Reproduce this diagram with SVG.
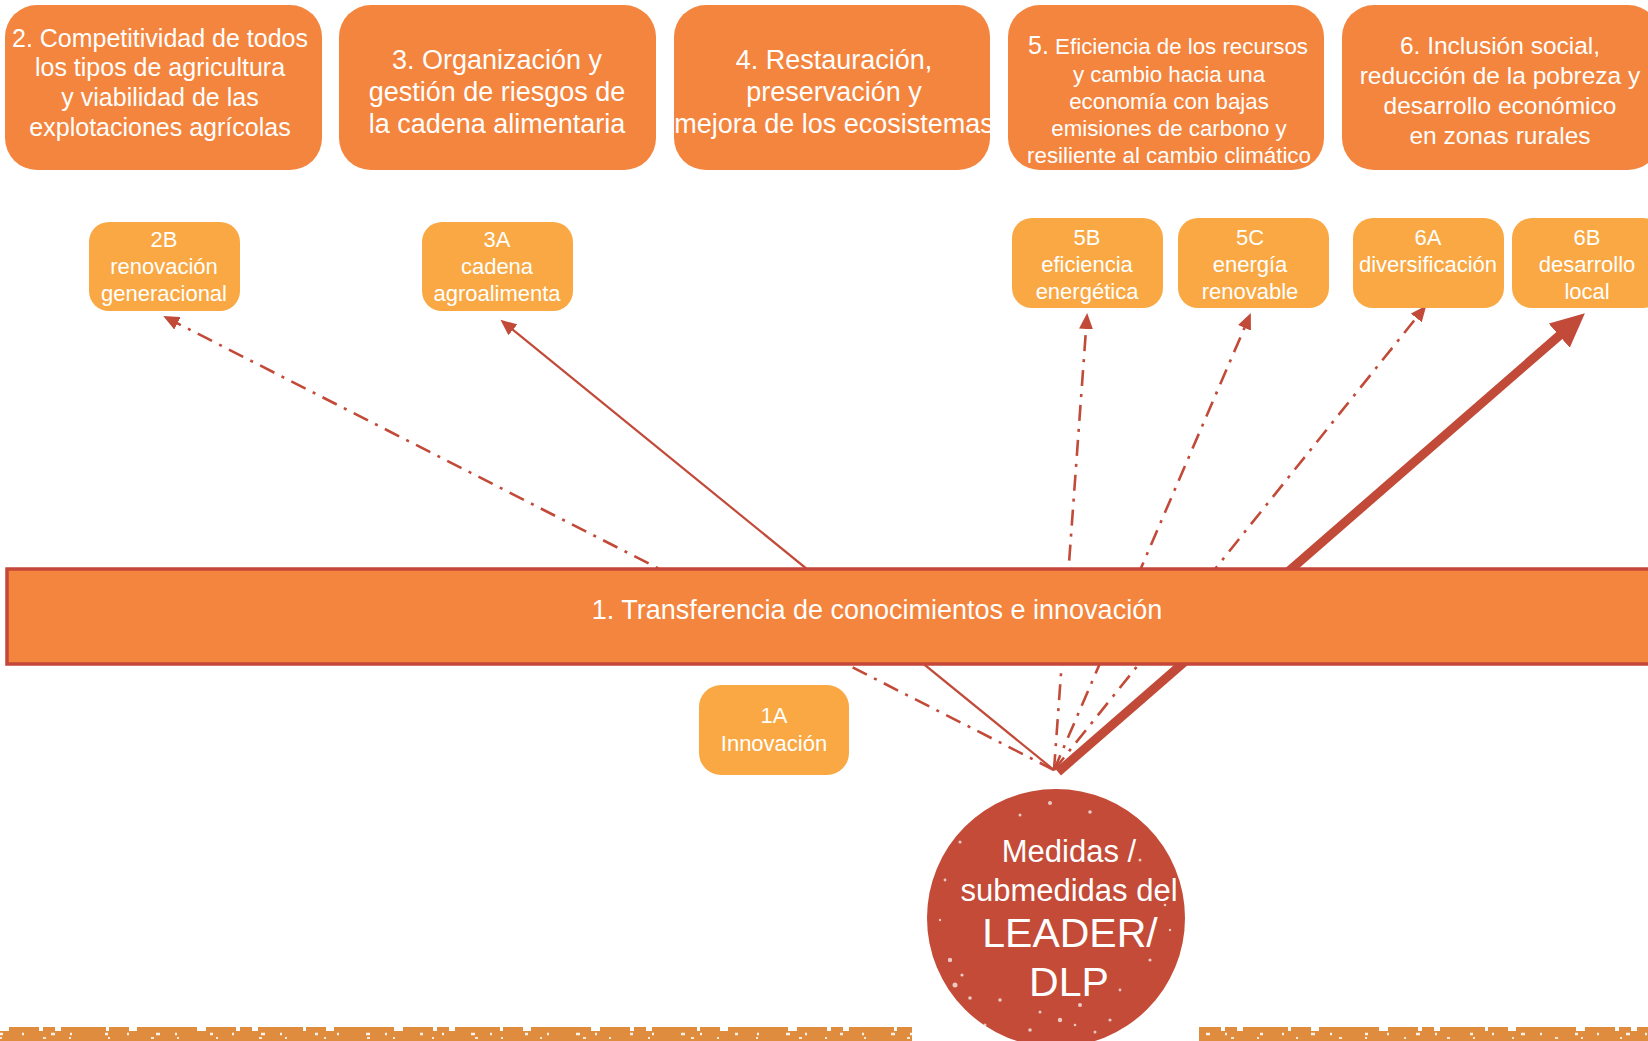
<svg xmlns="http://www.w3.org/2000/svg" width="1648" height="1041" viewBox="0 0 1648 1041">
<defs>
<style>
.big{fill:#F4853E}
.small{fill:#F9A843}
.t{font-family:"Liberation Sans",Arial,sans-serif;fill:#ffffff;text-anchor:middle}
.f27{font-size:27px}.f25{font-size:25px}.f24{font-size:24.5px}.f22{font-size:22.3px}.f21{font-size:22px}
.c{fill:none;stroke:#C24A38;stroke-width:2.6}
.dd{stroke-dasharray:16 8 3 8}
</style>
<marker id="ah" markerUnits="userSpaceOnUse" markerWidth="17" markerHeight="14" refX="1" refY="7" orient="auto">
<path d="M0,0 L16,7 L0,14 z" fill="#C24A38"/>
</marker>
<marker id="ahBig" markerUnits="userSpaceOnUse" markerWidth="36" markerHeight="32" refX="1" refY="16" orient="auto">
<path d="M0,0 L34,16 L0,32 z" fill="#C24A38"/>
</marker>
</defs>
<rect width="1648" height="1041" fill="#ffffff"/>

<g id="connectors">
<line class="c dd" x1="1054" y1="770" x2="176.6" y2="322.9" marker-end="url(#ah)"/>
<line class="c" style="stroke-width:2.2" x1="1054" y1="770" x2="512.1" y2="329.2" marker-end="url(#ah)"/>
<line class="c dd" x1="1054" y1="770" x2="1086.1" y2="328" marker-end="url(#ah)"/>
<line class="c dd" x1="1054" y1="770" x2="1244.9" y2="326.9" marker-end="url(#ah)"/>
<line class="c dd" x1="1054" y1="770" x2="1416.9" y2="317.1" marker-end="url(#ah)"/>
<line class="c" style="stroke-width:9" x1="1058" y1="772" x2="1560" y2="335" marker-end="url(#ahBig)"/>
</g>

<g id="n2"><rect class="big" x="5" y="5" width="317" height="165" rx="32"/>
<text class="t f25"><tspan x="160" y="47">2. Competitividad de todos</tspan><tspan x="160" y="76">los tipos de agricultura</tspan><tspan x="160" y="106">y viabilidad de las</tspan><tspan x="160" y="136">explotaciones agrícolas</tspan></text></g>
<g id="n3"><rect class="big" x="339" y="5" width="317" height="165" rx="32"/>
<text class="t f27"><tspan x="497" y="69">3. Organización y</tspan><tspan x="497" y="101">gestión de riesgos de</tspan><tspan x="497" y="133">la cadena alimentaria</tspan></text></g>
<g id="n4"><rect class="big" x="674" y="5" width="316" height="165" rx="32"/>
<text class="t f27"><tspan x="834" y="69">4. Restauración,</tspan><tspan x="834" y="101">preservación y</tspan><tspan x="834" y="133">mejora de los ecosistemas</tspan></text></g>
<g id="n5"><rect class="big" x="1008" y="5" width="316" height="165" rx="32"/>
<text class="t f22"><tspan x="1168" y="54"><tspan font-size="25px">5.</tspan> Eficiencia de los recursos</tspan><tspan x="1169" y="82">y cambio hacia una</tspan><tspan x="1169" y="109">economía con bajas</tspan><tspan x="1169" y="136">emisiones de carbono y</tspan><tspan x="1169" y="163">resiliente al cambio climático</tspan></text></g>
<g id="n6"><rect class="big" x="1342" y="5" width="318" height="165" rx="32"/>
<text class="t f24"><tspan x="1500" y="54">6. Inclusión social,</tspan><tspan x="1500" y="84">reducción de la pobreza y</tspan><tspan x="1500" y="114">desarrollo económico</tspan><tspan x="1500" y="144">en zonas rurales</tspan></text></g>

<g id="n2B"><rect class="small" x="89" y="222" width="151" height="89" rx="20"/>
<text class="t f21"><tspan x="164" y="247">2B</tspan><tspan x="164" y="274">renovación</tspan><tspan x="164" y="301">generacional</tspan></text></g>
<g id="n3A"><rect class="small" x="422" y="222" width="151" height="89" rx="20"/>
<text class="t f21"><tspan x="497" y="247">3A</tspan><tspan x="497" y="274">cadena</tspan><tspan x="497" y="301">agroalimenta</tspan></text></g>
<g id="n5B"><rect class="small" x="1012" y="218" width="151" height="90" rx="20"/>
<text class="t f21"><tspan x="1087" y="245">5B</tspan><tspan x="1087" y="272">eficiencia</tspan><tspan x="1087" y="299">energética</tspan></text></g>
<g id="n5C"><rect class="small" x="1178" y="218" width="151" height="90" rx="20"/>
<text class="t f21"><tspan x="1250" y="245">5C</tspan><tspan x="1250" y="272">energía</tspan><tspan x="1250" y="299">renovable</tspan></text></g>
<g id="n6A"><rect class="small" x="1353" y="218" width="151" height="90" rx="20"/>
<text class="t f21"><tspan x="1428" y="245">6A</tspan><tspan x="1428" y="272">diversificación</tspan></text></g>
<g id="n6B"><rect class="small" x="1512" y="218" width="151" height="90" rx="20"/>
<text class="t f21"><tspan x="1587" y="245">6B</tspan><tspan x="1587" y="272">desarrollo</tspan><tspan x="1587" y="299">local</tspan></text></g>

<g id="n1"><rect x="7" y="569" width="1660" height="95" fill="#F4853E" stroke="#C5473A" stroke-width="3.5"/>
<text class="t f27" x="877" y="619">1. Transferencia de conocimientos e innovación</text></g>

<g id="n1A"><rect class="small" x="699" y="685" width="150" height="90" rx="22"/>
<text class="t f21"><tspan x="774" y="723">1A</tspan><tspan x="774" y="751">Innovación</tspan></text></g>

<g id="strip">
<rect x="0" y="1027" width="912" height="14" fill="#E08C3E"/>
<rect x="1199" y="1027" width="449" height="14" fill="#E08C3E"/>
<line x1="0" y1="1029" x2="1648" y2="1029" stroke="#ffffff" stroke-width="4" stroke-dasharray="9 30 4 12 6 45 3 20 8 60"/>
<line x1="0" y1="1034" x2="1648" y2="1034" stroke="#ffffff" stroke-width="2.5" stroke-dasharray="3 19 2 27 4 15 2 33" opacity="0.9"/>
<line x1="0" y1="1038" x2="1648" y2="1038" stroke="#ffffff" stroke-width="2" stroke-dasharray="2 41 3 23 2 37" opacity="0.8"/>
</g>

<g id="leader">
<circle cx="1056" cy="918" r="129" fill="#C34B37"/>
<g fill="#ffffff" opacity="0.7">
<circle cx="1050" cy="803" r="2"/><circle cx="1020" cy="815" r="1.5"/><circle cx="1090" cy="812" r="1.8"/><circle cx="960" cy="842" r="1.6"/>
<circle cx="945" cy="880" r="1.4"/><circle cx="1140" cy="860" r="1.5"/><circle cx="1165" cy="905" r="1.3"/><circle cx="950" cy="960" r="2.2"/>
<circle cx="962" cy="975" r="1.6"/><circle cx="1000" cy="1000" r="1.8"/><circle cx="1040" cy="1012" r="1.5"/><circle cx="1080" cy="1005" r="2"/>
<circle cx="1120" cy="990" r="1.4"/><circle cx="1150" cy="960" r="1.6"/><circle cx="985" cy="1025" r="1.5"/><circle cx="1030" cy="1030" r="1.8"/>
<circle cx="1075" cy="1025" r="1.3"/><circle cx="1110" cy="1020" r="1.6"/><circle cx="940" cy="920" r="1.2"/><circle cx="1170" cy="930" r="1.2"/>
<circle cx="955" cy="985" r="2.5"/><circle cx="970" cy="998" r="1.8"/><circle cx="1060" cy="1020" r="2.2"/><circle cx="1095" cy="1032" r="1.5"/>
</g>
<text class="t" font-size="31px"><tspan x="1069" y="862">Medidas /</tspan><tspan x="1069" y="901">submedidas del</tspan></text>
<text class="t" font-size="41px"><tspan x="1070" y="947">LEADER/</tspan><tspan x="1069" y="996">DLP</tspan></text>
</g>
</svg>
